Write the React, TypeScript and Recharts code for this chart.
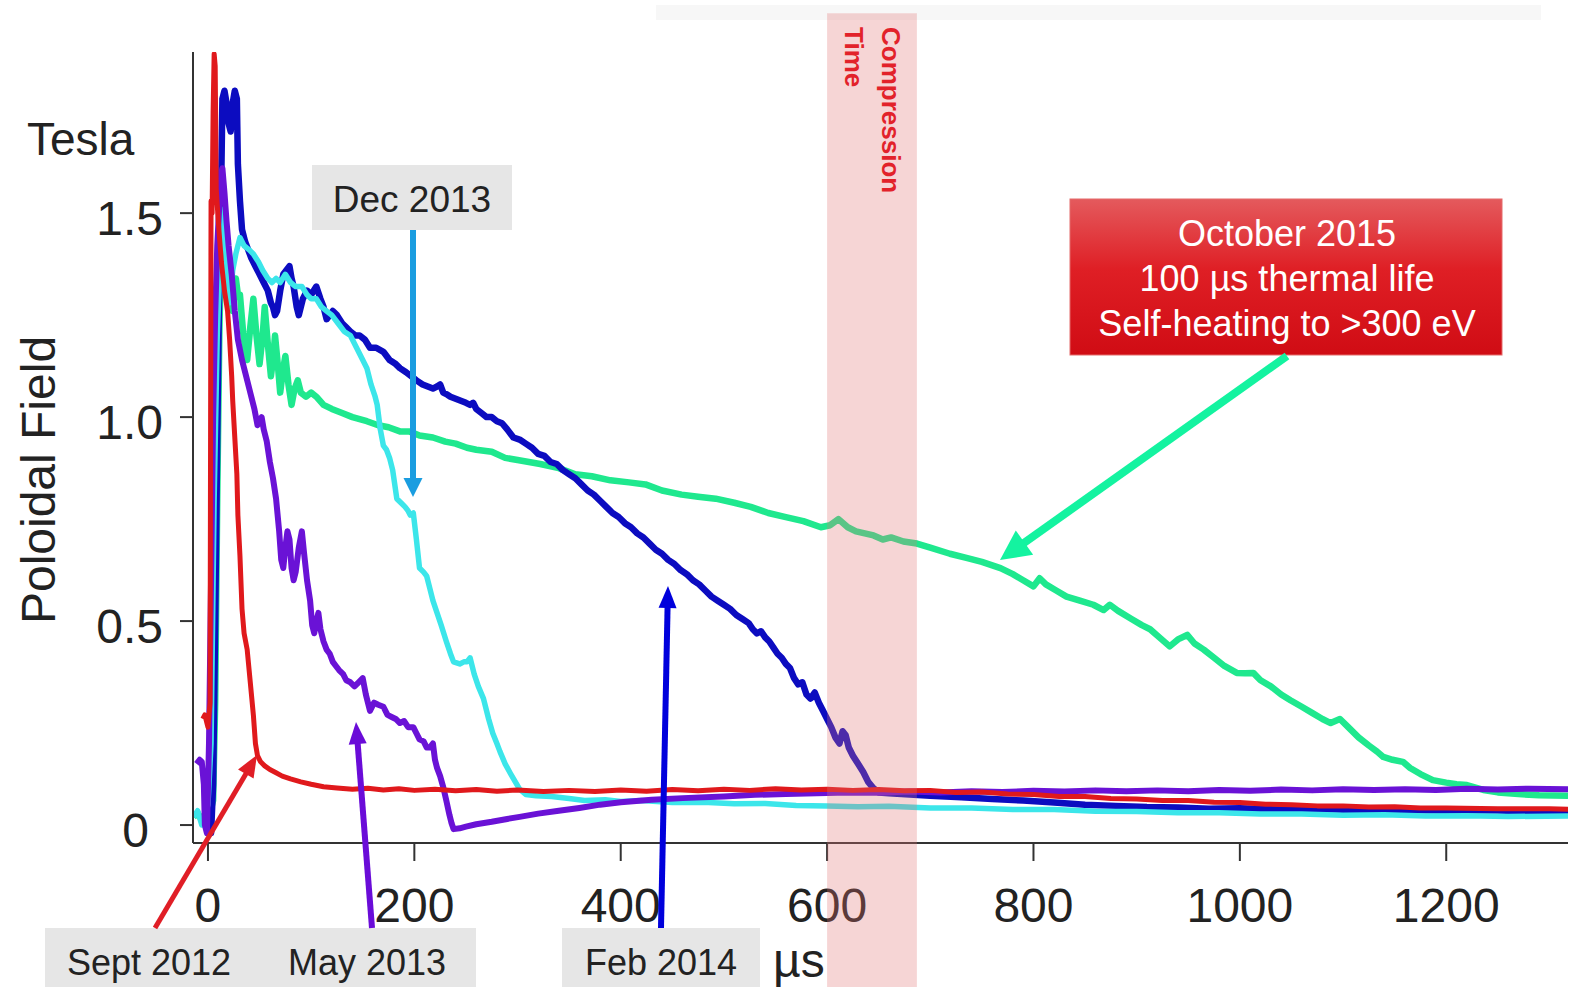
import React from 'react';
import { LineChart, Line, XAxis, YAxis, ReferenceArea } from 'recharts';

const FONT = '"Liberation Sans", Arial, Helvetica, sans-serif';

// Axis setup
const X_TICKS = [0, 200, 400, 600, 800, 1000, 1200];
const Y_TICKS = [0, 0.5, 1.0, 1.5];
const X_DOMAIN: [number, number] = [-14.5, 1318];
const Y_DOMAIN: [number, number] = [-0.044, 1.895];
const COMPRESSION_START = 600;
const COMPRESSION_END = 687;

// [time µs, poloidal field T]
const sept2012: [number, number][] = [
  [-5, 0.26], [-3, 0.27], [-1, 0.25], [0, 0.24], [2, 0.3], [3, 1.53], [4, 1.5], [5, 1.75],
  [6, 1.89], [7, 1.86], [8, 1.56], [10, 1.48], [13, 1.38], [16, 1.31], [19, 1.26], [21, 1.19], [23, 1.1], [24, 1.04],
  [26, 0.95], [28, 0.86], [29, 0.76], [31, 0.66], [33, 0.53], [35, 0.47], [38, 0.43], [41, 0.35], [44, 0.27], [46, 0.2],
  [48, 0.17], [51, 0.155], [55, 0.145], [60, 0.136], [66, 0.128], [72, 0.12], [80, 0.113], [90, 0.106], [100, 0.1],
  [112, 0.094], [125, 0.091], [140, 0.088], [155, 0.09], [170, 0.086], [185, 0.089], [200, 0.085], [220, 0.088],
  [240, 0.084], [260, 0.087], [280, 0.083], [300, 0.086], [325, 0.082], [350, 0.085], [375, 0.082], [400, 0.086],
  [425, 0.083], [450, 0.087], [475, 0.084], [500, 0.088], [525, 0.085], [550, 0.089], [575, 0.086], [600, 0.088],
  [625, 0.085], [650, 0.087], [675, 0.084], [700, 0.085], [725, 0.08], [750, 0.081], [775, 0.076], [800, 0.075],
  [825, 0.07], [850, 0.07], [875, 0.065], [900, 0.064], [925, 0.06], [950, 0.06], [975, 0.056], [1000, 0.055],
  [1025, 0.051], [1050, 0.05], [1075, 0.047], [1100, 0.047], [1125, 0.044], [1150, 0.045], [1175, 0.042],
  [1200, 0.042], [1250, 0.04], [1300, 0.04], [1318, 0.039],
];

const may2013: [number, number][] = [
  [-11, 0.15], [-8, 0.16], [-6, 0.155], [-4, 0.1], [-3, 0.0], [-1, -0.02], [1, 0.2], [3, 0.6], [5, 1.0],
  [7, 1.25], [9, 1.42], [11, 1.52], [13, 1.6], [14, 1.61], [16, 1.55], [18, 1.48], [20, 1.42], [23, 1.35], [26, 1.26],
  [29, 1.19], [33, 1.14], [37, 1.1], [41, 1.06], [45, 1.02], [48, 0.98], [50, 0.99], [52, 1.0], [54, 0.97], [57, 0.94],
  [60, 0.89], [63, 0.85], [66, 0.8], [69, 0.72], [71, 0.65], [73, 0.63], [75, 0.68], [77, 0.72], [79, 0.7], [81, 0.63],
  [83, 0.6], [85, 0.62], [88, 0.68], [91, 0.72], [93, 0.67], [96, 0.6], [99, 0.55], [101, 0.49], [103, 0.47],
  [105, 0.5], [107, 0.52], [109, 0.48], [112, 0.45], [115, 0.43], [118, 0.42], [121, 0.4], [124, 0.39], [127, 0.38],
  [131, 0.37], [134, 0.355], [138, 0.35], [142, 0.34], [146, 0.35], [150, 0.36], [153, 0.32], [157, 0.28], [161, 0.3],
  [165, 0.295], [170, 0.29], [174, 0.27], [178, 0.265], [182, 0.26], [186, 0.25], [190, 0.255], [194, 0.24],
  [199, 0.24], [202, 0.225], [205, 0.21], [209, 0.205], [212, 0.19], [215, 0.19], [218, 0.2], [220, 0.16],
  [222, 0.14], [225, 0.12], [228, 0.093], [231, 0.06], [234, 0.025], [236, 0.005], [238, -0.01], [244, -0.008],
  [250, -0.004], [260, 0.002], [275, 0.008], [290, 0.015], [302, 0.02], [320, 0.028], [340, 0.035], [360, 0.042],
  [380, 0.05], [400, 0.056], [430, 0.062], [460, 0.066], [500, 0.07], [530, 0.074], [560, 0.076], [590, 0.078],
  [620, 0.08], [650, 0.079], [680, 0.082], [710, 0.08], [740, 0.083], [770, 0.081], [800, 0.084], [830, 0.082],
  [860, 0.085], [890, 0.083], [920, 0.085], [950, 0.083], [980, 0.086], [1010, 0.084], [1040, 0.087], [1070, 0.085],
  [1100, 0.088], [1130, 0.086], [1160, 0.088], [1190, 0.086], [1220, 0.089], [1250, 0.087], [1280, 0.089],
  [1318, 0.088],
];

const feb2014: [number, number][] = [
  [0, 0.01], [3, -0.02], [5, 0.1], [7, 0.5], [9, 0.95], [11, 1.35], [13, 1.6], [14, 1.78], [16, 1.8], [18, 1.77],
  [20, 1.72], [22, 1.7], [24, 1.77], [26, 1.8], [28, 1.78], [29, 1.62], [31, 1.53], [33, 1.46], [36, 1.43], [39, 1.41],
  [42, 1.39], [46, 1.37], [50, 1.35], [54, 1.33], [58, 1.31], [61, 1.28], [63, 1.27], [65, 1.25], [67, 1.26],
  [70, 1.31], [73, 1.35], [76, 1.36], [79, 1.37], [81, 1.34], [83, 1.32], [86, 1.27], [88, 1.25], [90, 1.27],
  [92, 1.29], [96, 1.31], [100, 1.3], [105, 1.32], [109, 1.29], [112, 1.27], [115, 1.24], [118, 1.25], [121, 1.26],
  [125, 1.25], [130, 1.23], [134, 1.22], [138, 1.21], [143, 1.2], [147, 1.2], [152, 1.19], [157, 1.17], [163, 1.17],
  [170, 1.16], [176, 1.14], [182, 1.13], [186, 1.12], [192, 1.11], [197, 1.1], [202, 1.09], [208, 1.08],
  [213, 1.075], [218, 1.07], [222, 1.075], [225, 1.08], [228, 1.06], [232, 1.055], [235, 1.05], [240, 1.045],
  [245, 1.04], [250, 1.035], [254, 1.03], [257, 1.035], [260, 1.02], [265, 1.01], [270, 1.0], [275, 1.0], [280, 0.99],
  [285, 0.985], [290, 0.97], [296, 0.95], [302, 0.945], [308, 0.935], [314, 0.925], [320, 0.91], [326, 0.905],
  [332, 0.89], [338, 0.885], [344, 0.87], [350, 0.86], [356, 0.85], [362, 0.835], [368, 0.82], [374, 0.81],
  [380, 0.795], [386, 0.78], [392, 0.765], [398, 0.755], [404, 0.74], [410, 0.73], [416, 0.715], [422, 0.705],
  [428, 0.69], [434, 0.675], [440, 0.665], [446, 0.65], [452, 0.64], [458, 0.625], [464, 0.615], [470, 0.6],
  [476, 0.59], [482, 0.575], [488, 0.56], [494, 0.55], [500, 0.54], [506, 0.53], [512, 0.515], [518, 0.505],
  [524, 0.495], [528, 0.48], [532, 0.47], [536, 0.475], [540, 0.46], [544, 0.45], [548, 0.435], [552, 0.42],
  [556, 0.41], [560, 0.395], [564, 0.385], [568, 0.36], [572, 0.345], [576, 0.35], [580, 0.32], [584, 0.31],
  [588, 0.325], [592, 0.3], [596, 0.28], [600, 0.26], [604, 0.24], [608, 0.215], [612, 0.2], [615, 0.23], [618, 0.22],
  [621, 0.19], [625, 0.17], [630, 0.15], [635, 0.13], [640, 0.105], [645, 0.09], [650, 0.08], [660, 0.078],
  [680, 0.075], [700, 0.072], [730, 0.068], [760, 0.064], [790, 0.06], [820, 0.055], [850, 0.05], [880, 0.047],
  [910, 0.044], [940, 0.043], [970, 0.04], [1000, 0.041], [1040, 0.038], [1080, 0.039], [1120, 0.036],
  [1160, 0.037], [1200, 0.035], [1240, 0.036], [1280, 0.034], [1318, 0.035],
];

const dec2013: [number, number][] = [
  [-14, 0.02], [-10, 0.035], [-6, 0.0], [-3, 0.02], [0, 0.05], [3, 0.2], [6, 0.8], [9, 1.2], [12, 1.4], [15, 1.51],
  [17, 1.45], [19, 1.3], [21, 1.28], [24, 1.36], [27, 1.4], [31, 1.44], [35, 1.42], [40, 1.41], [44, 1.4], [49, 1.38],
  [53, 1.36], [58, 1.34], [62, 1.33], [66, 1.34], [70, 1.33], [75, 1.35], [80, 1.33], [85, 1.32], [91, 1.32],
  [96, 1.3], [100, 1.29], [105, 1.29], [110, 1.27], [115, 1.26], [120, 1.25], [126, 1.23], [132, 1.21], [138, 1.2],
  [144, 1.17], [150, 1.14], [154, 1.12], [158, 1.08], [162, 1.05], [164, 1.03], [167, 0.97], [170, 0.93],
  [173, 0.92], [176, 0.9], [179, 0.87], [183, 0.8], [187, 0.79], [191, 0.78], [194, 0.77], [196, 0.76], [199, 0.765],
  [202, 0.7], [205, 0.63], [209, 0.62], [212, 0.61], [215, 0.58], [218, 0.55], [222, 0.52], [226, 0.49], [231, 0.45],
  [235, 0.42], [238, 0.4], [244, 0.395], [248, 0.4], [251, 0.4], [254, 0.41], [258, 0.37], [262, 0.34], [267, 0.31],
  [272, 0.26], [276, 0.225], [280, 0.2], [283, 0.18], [288, 0.15], [293, 0.127], [298, 0.105], [302, 0.088],
  [308, 0.075], [318, 0.072], [333, 0.07], [350, 0.065], [365, 0.06], [385, 0.062], [400, 0.058], [420, 0.06],
  [450, 0.055], [480, 0.056], [510, 0.052], [540, 0.053], [570, 0.048], [600, 0.047], [630, 0.045], [660, 0.046],
  [700, 0.042], [740, 0.042], [780, 0.038], [820, 0.038], [860, 0.034], [900, 0.033], [940, 0.03], [980, 0.03],
  [1020, 0.027], [1060, 0.027], [1100, 0.024], [1140, 0.025], [1180, 0.022], [1220, 0.023], [1260, 0.021],
  [1318, 0.022],
];

const oct2015: [number, number][] = [
  [-14, 0.02], [-10, 0.03], [-6, 0.012], [-2, 0.022], [2, 0.03], [5, 0.06], [7, 0.3], [9, 0.8], [11, 1.2], [13, 1.45],
  [15, 1.53], [17, 1.44], [19, 1.32], [21, 1.37], [24, 1.26], [27, 1.34], [29, 1.3], [31, 1.3], [34, 1.21],
  [36, 1.17], [38, 1.14], [41, 1.22], [44, 1.29], [47, 1.2], [50, 1.13], [53, 1.2], [55, 1.27], [58, 1.18], [61, 1.1],
  [63, 1.14], [65, 1.2], [68, 1.12], [70, 1.06], [73, 1.12], [75, 1.15], [78, 1.08], [81, 1.03], [84, 1.07],
  [87, 1.09], [90, 1.06], [95, 1.05], [100, 1.06], [105, 1.05], [112, 1.03], [120, 1.02], [130, 1.01], [140, 1.0],
  [154, 0.99], [165, 0.98], [175, 0.975], [186, 0.965], [195, 0.965], [205, 0.955], [218, 0.95], [230, 0.94],
  [240, 0.935], [251, 0.925], [260, 0.92], [275, 0.915], [288, 0.9], [300, 0.895], [322, 0.885], [340, 0.875],
  [356, 0.86], [372, 0.855], [390, 0.845], [408, 0.84], [424, 0.835], [440, 0.82], [459, 0.81], [475, 0.805],
  [492, 0.8], [510, 0.79], [526, 0.78], [543, 0.765], [560, 0.755], [577, 0.745], [594, 0.73], [603, 0.735],
  [611, 0.75], [620, 0.73], [628, 0.72], [645, 0.71], [654, 0.7], [662, 0.705], [674, 0.695], [687, 0.69], [700, 0.68],
  [719, 0.665], [735, 0.655], [750, 0.645], [768, 0.63], [780, 0.615], [790, 0.6], [800, 0.585], [806, 0.605],
  [812, 0.59], [822, 0.575], [832, 0.56], [845, 0.55], [858, 0.54], [868, 0.527], [874, 0.54], [882, 0.525],
  [895, 0.505], [905, 0.49], [913, 0.48], [922, 0.46], [932, 0.438], [940, 0.455], [949, 0.466], [956, 0.445],
  [965, 0.43], [975, 0.41], [985, 0.39], [997, 0.373], [1005, 0.372], [1013, 0.373], [1020, 0.355], [1030, 0.34],
  [1040, 0.32], [1049, 0.306], [1060, 0.29], [1070, 0.275], [1080, 0.26], [1088, 0.25], [1097, 0.26], [1105, 0.24],
  [1115, 0.215], [1125, 0.195], [1133, 0.18], [1139, 0.167], [1148, 0.16], [1158, 0.155], [1165, 0.14],
  [1175, 0.125], [1187, 0.11], [1200, 0.104], [1210, 0.1], [1220, 0.098], [1236, 0.086], [1250, 0.08],
  [1270, 0.076], [1290, 0.073], [1318, 0.072],
];

const toRows = (pts: [number, number][]) => pts.map(([t, b]) => ({ t, b }));

const SERIES = [
  { name: 'October 2015', color: '#1fe88e', width: 6.5, rows: toRows(oct2015) },
  { name: 'Feb 2014', color: '#0c0cc0', width: 6.5, rows: toRows(feb2014) },
  { name: 'Dec 2013', color: '#3ce6ea', width: 5.5, rows: toRows(dec2013) },
  { name: 'May 2013', color: '#6a12d6', width: 6, rows: toRows(may2013) },
  { name: 'Sept 2012', color: '#e0191c', width: 5, rows: toRows(sept2012) },
];

const XTick = (props: any) => {
  const { x, y, payload } = props;
  return (
    <text x={x} y={y + 61} textAnchor="middle" fontSize={48} fill="#222" fontFamily={FONT}>
      {payload.value}
    </text>
  );
};

const YTick = (props: any) => {
  const { x, y, payload } = props;
  const v = payload.value as number;
  const label = v === 0 ? '0' : v.toFixed(1);
  return (
    <text x={v === 0 ? x - 14 : x} y={y + 5} dy="0.36em" textAnchor="end" fontSize={48} fill="#222" fontFamily={FONT}>
      {label}
    </text>
  );
};

function Arrow(p: { x1: number; y1: number; x2: number; y2: number; color: string; w: number; hl: number; hw: number }) {
  const dx = p.x2 - p.x1;
  const dy = p.y2 - p.y1;
  const len = Math.hypot(dx, dy);
  const ux = dx / len;
  const uy = dy / len;
  const bx = p.x2 - ux * p.hl;
  const by = p.y2 - uy * p.hl;
  const px = -uy;
  const py = ux;
  return (
    <g>
      <line x1={p.x1} y1={p.y1} x2={bx + ux * 2} y2={by + uy * 2} stroke={p.color} strokeWidth={p.w} />
      <polygon
        points={`${p.x2},${p.y2} ${bx + (px * p.hw) / 2},${by + (py * p.hw) / 2} ${bx - (px * p.hw) / 2},${by - (py * p.hw) / 2}`}
        fill={p.color}
      />
    </g>
  );
}

export default function App() {
  return (
    <div style={{ position: 'absolute', left: 0, top: 0, width: 1570, height: 987, background: '#fff', overflow: 'hidden' }}>
      <svg width={1570} height={987} style={{ position: 'absolute', left: 0, top: 0 }}>
        <rect x={656} y={5} width={885} height={15} fill="#f7f7f7" />
      </svg>
      <div style={{ position: 'absolute', left: 0, top: 0 }}>
        <LineChart width={1570} height={987} margin={{ top: 52, right: 2, bottom: 0, left: 0 }}>
          <XAxis
            dataKey="t"
            type="number"
            domain={X_DOMAIN}
            ticks={X_TICKS}
            allowDataOverflow
            height={144}
            tickSize={18}
            tickMargin={0}
            tick={<XTick />}
            axisLine={{ stroke: '#333', strokeWidth: 2 }}
            tickLine={{ stroke: '#333', strokeWidth: 2 }}
          />
          <YAxis
            type="number"
            domain={Y_DOMAIN}
            ticks={Y_TICKS}
            allowDataOverflow
            width={193}
            tickSize={13}
            tickMargin={17}
            tick={<YTick />}
            axisLine={{ stroke: '#333', strokeWidth: 2 }}
            tickLine={{ stroke: '#333', strokeWidth: 2 }}
          />
          {SERIES.map((s) => (
            <Line
              key={s.name}
              data={s.rows}
              dataKey="b"
              name={s.name}
              type="linear"
              stroke={s.color}
              strokeWidth={s.width}
              strokeLinejoin="round"
              dot={false}
              activeDot={false}
              isAnimationActive={false}
            />
          ))}
          <ReferenceArea
            x1={COMPRESSION_START}
            x2={COMPRESSION_END}
            y1={-0.4}
            y2={1.99}
            ifOverflow="visible"
            fill="#e07474"
            fillOpacity={0.3}
            stroke="none"
            {...({ zIndex: 2000 } as any)}
          />
        </LineChart>
      </div>
      <svg width={1570} height={987} style={{ position: 'absolute', left: 0, top: 0, pointerEvents: 'none' }}>
        <defs>
          <linearGradient id="redBox" x1="0" y1="0" x2="0" y2="1">
            <stop offset="0%" stopColor="#e45a5d" />
            <stop offset="45%" stopColor="#df1f25" />
            <stop offset="100%" stopColor="#d00c14" />
          </linearGradient>
        </defs>

        {/* axis titles */}
        <text x={27} y={155} fontSize={46} fill="#222" fontFamily={FONT}>Tesla</text>
        <text transform="translate(55,480) rotate(-90)" textAnchor="middle" fontSize={48} fill="#222" fontFamily={FONT}>
          Poloidal Field
        </text>
        <text x={773} y={977} fontSize={48} fill="#222" fontFamily={FONT}>µs</text>

        {/* compression label */}
        <text transform="translate(882,27) rotate(90)" fontSize={26} fontWeight="bold" fill="#e2222a" fontFamily={FONT}>
          Compression
        </text>
        <text transform="translate(845,27) rotate(90)" fontSize={26} fontWeight="bold" fill="#e2222a" fontFamily={FONT}>
          Time
        </text>

        {/* Dec 2013 */}
        <rect x={312} y={165} width={200} height={65} fill="#e6e6e6" />
        <text x={412} y={212} textAnchor="middle" fontSize={37} fill="#222" fontFamily={FONT}>Dec 2013</text>
        <Arrow x1={413} y1={230} x2={413} y2={497} color="#1a9de0" w={6} hl={19} hw={19} />

        {/* October 2015 */}
        <rect x={1070} y={199} width={432} height={156} fill="url(#redBox)" stroke="#e46a6a" strokeWidth={1} />
        <text x={1287} y={246} textAnchor="middle" fontSize={36} fill="#fff" fontFamily={FONT}>October 2015</text>
        <text x={1287} y={291} textAnchor="middle" fontSize={36} fill="#fff" fontFamily={FONT}>100 µs thermal life</text>
        <text x={1287} y={336} textAnchor="middle" fontSize={36} fill="#fff" fontFamily={FONT}>Self-heating to &gt;300 eV</text>
        <Arrow x1={1287} y1={356} x2={1000} y2={560} color="#14f3a0" w={8} hl={30} hw={30} />

        {/* bottom labels */}
        <rect x={45} y={928} width={431} height={59} fill="#e6e6e6" />
        <text x={149} y={975} textAnchor="middle" fontSize={36} fill="#222" fontFamily={FONT}>Sept 2012</text>
        <text x={367} y={975} textAnchor="middle" fontSize={36} fill="#222" fontFamily={FONT}>May 2013</text>
        <rect x={562} y={928} width={198} height={59} fill="#e6e6e6" />
        <text x={661} y={975} textAnchor="middle" fontSize={36} fill="#222" fontFamily={FONT}>Feb 2014</text>

        <Arrow x1={155} y1={928} x2={257} y2={755} color="#e01e26" w={5} hl={22} hw={18} />
        <Arrow x1={372} y1={928} x2={356} y2={722} color="#6a0cd8" w={6} hl={22} hw={18} />
        <Arrow x1={661} y1={928} x2={668} y2={586} color="#0000dc" w={6} hl={22} hw={18} />
      </svg>
    </div>
  );
}
